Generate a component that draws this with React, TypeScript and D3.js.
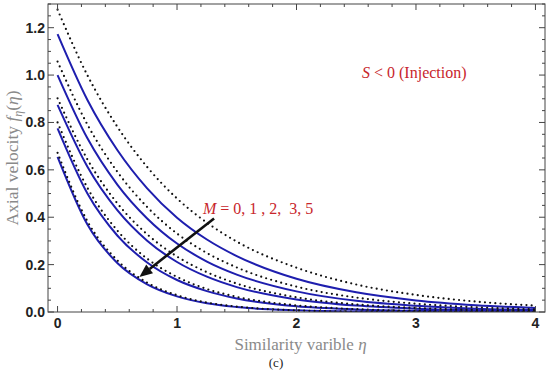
import React, { useEffect, useRef } from 'react';
import * as d3 from 'd3';

// η sample positions and values
const eta = [0, 0.25, 0.5, 0.75, 1, 1.25, 1.5, 2, 2.5, 3, 3.5, 4];

const solidSeries: number[][] = [
  [1.173, 0.895, 0.684, 0.522, 0.398, 0.306, 0.236, 0.14, 0.083, 0.049, 0.029, 0.017],
  [1.0, 0.733, 0.538, 0.395, 0.289, 0.213, 0.158, 0.087, 0.047, 0.026, 0.014, 0.008],
  [0.874, 0.613, 0.43, 0.301, 0.211, 0.149, 0.105, 0.053, 0.027, 0.014, 0.007, 0.004],
  [0.775, 0.5, 0.323, 0.209, 0.135, 0.088, 0.057, 0.024, 0.011, 0.005, 0.002, 0.001],
  [0.655, 0.369, 0.207, 0.117, 0.066, 0.037, 0.021, 0.007, 0.002, 0.001, 0.0, 0.0],
];

const dottedSeries: number[][] = [
  [1.276, 0.999, 0.782, 0.612, 0.479, 0.377, 0.297, 0.187, 0.116, 0.072, 0.044, 0.027],
  [1.057, 0.791, 0.592, 0.443, 0.331, 0.249, 0.188, 0.107, 0.061, 0.035, 0.02, 0.011],
  [0.902, 0.644, 0.459, 0.328, 0.234, 0.168, 0.12, 0.062, 0.032, 0.017, 0.009, 0.005],
  [0.8, 0.524, 0.344, 0.225, 0.148, 0.097, 0.064, 0.028, 0.012, 0.005, 0.002, 0.001],
  [0.672, 0.383, 0.218, 0.124, 0.071, 0.04, 0.023, 0.007, 0.002, 0.001, 0.0, 0.0],
];

const xTicks = [0, 1, 2, 3, 4];
const yTicks = [0, 0.2, 0.4, 0.6, 0.8, 1.0, 1.2];

// arrow from label down to lowest curve: [η, f]
const arrowFrom = [1.31, 0.395];
const arrowTo = [0.685, 0.148];

const App: React.FC = () => {
  const svgRef = useRef<SVGSVGElement>(null);

  useEffect(() => {
    if (!svgRef.current) return;
    const svg = d3.select(svgRef.current);
    svg.selectAll('*').remove();

    const left = 48, right = 545, top = 4, bottom = 312;
    const x = d3.scaleLinear().domain([-0.08, 4.08]).range([left, right]);
    const y = d3.scaleLinear().domain([0, 1.3]).range([bottom, top]);

    const line = d3.line<number>()
      .x((_, i) => x(eta[i]))
      .y(d => y(d))
      .curve(d3.curveMonotoneX);

    const clip = svg.append('defs').append('clipPath').attr('id', 'plot-clip');
    clip.append('rect')
      .attr('x', left).attr('y', top)
      .attr('width', right - left).attr('height', bottom - top);

    const plot = svg.append('g').attr('clip-path', 'url(#plot-clip)');

    solidSeries.forEach(s => {
      plot.append('path')
        .attr('d', line(s) as string)
        .attr('fill', 'none')
        .attr('stroke', '#1e1eae')
        .attr('stroke-width', 2);
    });

    dottedSeries.forEach(s => {
      plot.append('path')
        .attr('d', line(s) as string)
        .attr('fill', 'none')
        .attr('stroke', '#111')
        .attr('stroke-width', 2.2)
        .attr('stroke-linecap', 'round')
        .attr('stroke-dasharray', '0 5.2');
    });

    // frame
    svg.append('rect')
      .attr('x', left).attr('y', top)
      .attr('width', right - left).attr('height', bottom - top)
      .attr('fill', 'none')
      .attr('stroke', '#444')
      .attr('stroke-width', 1);

    const ticks = svg.append('g').attr('stroke', '#444').attr('stroke-width', 1);

    // x ticks, major at integers, minor every 0.2 (bottom and top)
    d3.range(0, 4.001, 0.2).forEach(v => {
      const major = Math.abs(v - Math.round(v)) < 1e-6;
      const len = major ? 6 : 3;
      ticks.append('line')
        .attr('x1', x(v)).attr('x2', x(v))
        .attr('y1', bottom).attr('y2', bottom - len);
      ticks.append('line')
        .attr('x1', x(v)).attr('x2', x(v))
        .attr('y1', top).attr('y2', top + len);
    });

    // y ticks, major every 0.2, minor every 0.05 (left and right)
    d3.range(0, 1.3001, 0.05).forEach(v => {
      const major = Math.abs(v / 0.2 - Math.round(v / 0.2)) < 1e-6;
      const len = major ? 6 : 3;
      ticks.append('line')
        .attr('x1', left).attr('x2', left + len)
        .attr('y1', y(v)).attr('y2', y(v));
      ticks.append('line')
        .attr('x1', right).attr('x2', right - len)
        .attr('y1', y(v)).attr('y2', y(v));
    });

    const tickFont = '"Liberation Sans", Arial, sans-serif';

    svg.append('g').selectAll('text')
      .data(xTicks)
      .join('text')
      .attr('x', d => x(d))
      .attr('y', bottom + 16)
      .attr('text-anchor', 'middle')
      .attr('font-family', tickFont)
      .attr('font-weight', 'bold')
      .attr('font-size', 14)
      .attr('fill', '#222')
      .text(d => d3.format('d')(d));

    svg.append('g').selectAll('text')
      .data(yTicks)
      .join('text')
      .attr('x', left - 3)
      .attr('y', d => y(d) + 5)
      .attr('text-anchor', 'end')
      .attr('font-family', tickFont)
      .attr('font-weight', 'bold')
      .attr('font-size', 14)
      .attr('fill', '#222')
      .text(d => d3.format('.1f')(d));

    const serif = '"Liberation Serif", "Times New Roman", serif';

    // axis titles
    const xt = svg.append('text')
      .attr('x', (left + right) / 2 + 4)
      .attr('y', 350)
      .attr('text-anchor', 'middle')
      .attr('font-family', serif)
      .attr('font-size', 17)
      .attr('fill', '#8a8a8a');
    xt.append('tspan').text('Similarity varible ');
    xt.append('tspan').attr('font-style', 'italic').text('η');

    const yt = svg.append('text')
      .attr('transform', 'translate(18,158) rotate(-90)')
      .attr('text-anchor', 'middle')
      .attr('font-family', serif)
      .attr('font-size', 17.5)
      .attr('fill', '#8a8a8a');
    yt.append('tspan').text('Axial velocity ');
    yt.append('tspan').attr('font-style', 'italic').text('f');
    yt.append('tspan').attr('font-style', 'italic').attr('font-size', 12).attr('dy', 4).text('η');
    yt.append('tspan').attr('dy', -4).text('(');
    yt.append('tspan').attr('font-style', 'italic').text('η');
    yt.append('tspan').text(')');

    svg.append('text')
      .attr('x', 276)
      .attr('y', 367)
      .attr('text-anchor', 'middle')
      .attr('font-family', serif)
      .attr('font-size', 13)
      .attr('fill', '#222')
      .text('(c)');

    // annotations
    const red = '#c8262c';
    const s = svg.append('text')
      .attr('x', 362)
      .attr('y', 78)
      .attr('font-family', serif)
      .attr('font-size', 16)
      .attr('fill', red);
    s.append('tspan').attr('font-style', 'italic').text('S');
    s.append('tspan').text(' < 0 (Injection)');

    const m = svg.append('text')
      .attr('x', 203)
      .attr('y', 214)
      .attr('font-family', serif)
      .attr('font-size', 16)
      .attr('fill', red)
      .attr('xml:space', 'preserve')
      .style('white-space', 'pre');
    m.append('tspan').attr('font-style', 'italic').text('M');
    m.append('tspan').text(' = 0, 1 , 2,  3, 5');

    // arrow
    const x1 = x(arrowFrom[0]), y1 = y(arrowFrom[1]);
    const x2 = x(arrowTo[0]), y2 = y(arrowTo[1]);
    const ang = Math.atan2(y2 - y1, x2 - x1);
    const headLen = 13, headW = 5.5;
    const bx = x2 - headLen * Math.cos(ang), by = y2 - headLen * Math.sin(ang);
    svg.append('line')
      .attr('x1', x1).attr('y1', y1)
      .attr('x2', bx).attr('y2', by)
      .attr('stroke', '#111')
      .attr('stroke-width', 2.6);
    const px = -Math.sin(ang) * headW, py = Math.cos(ang) * headW;
    svg.append('path')
      .attr('d', `M${x2},${y2}L${bx + px},${by + py}L${bx - px},${by - py}Z`)
      .attr('fill', '#111');
  }, []);

  return (
    <div style={{ position: 'absolute', left: 0, top: 0 }}>
      <svg ref={svgRef} width={550} height={372} style={{ display: 'block', background: '#fff' }}></svg>
    </div>
  );
};

export default App;
